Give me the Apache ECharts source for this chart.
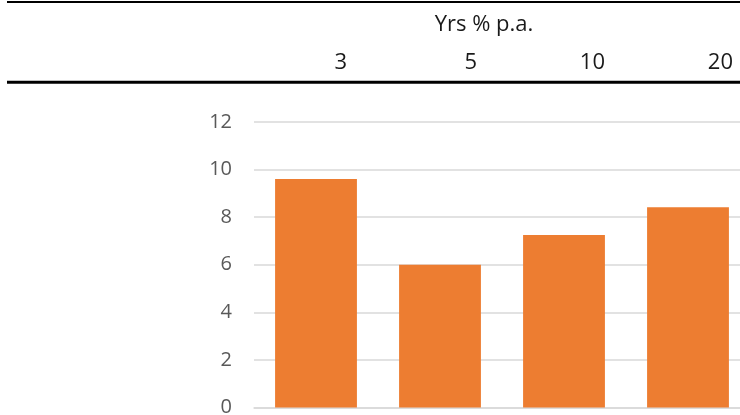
<!DOCTYPE html>
<html>
<head>
<meta charset="utf-8">
<style>html,body{margin:0;padding:0;background:#fff}#c{width:740px;height:415px}</style>
<script src="https://cdn.jsdelivr.net/npm/echarts@6/dist/echarts.min.js"></script>
</head>
<body>
<div id="c"></div>
<script>
const categories = ['3', '5', '10', '20'];
const values = [9.6, 6.0, 7.25, 8.42];
const yTicks = { min: 0, max: 12, interval: 2 };
const headerTitle = 'Yrs % p.a.';

const FONT = '"Open Sans", "Liberation Sans", sans-serif';
const headerRightEdges = [347, 477, 605, 733];

const chart = echarts.init(document.getElementById('c'), null, { renderer: 'canvas' });

const graphics = [
  { type: 'line', shape: { x1: 7, y1: 2, x2: 740, y2: 2 }, style: { stroke: '#000', lineWidth: 2 } },
  { type: 'line', shape: { x1: 7, y1: 82.2, x2: 740, y2: 82.2 }, style: { stroke: '#000', lineWidth: 3 } },
  { type: 'text', x: 484, y: 25, style: { text: headerTitle, fill: '#1a1a1a', font: '22px ' + FONT, align: 'center', verticalAlign: 'middle' } }
];
categories.forEach((c, i) => {
  graphics.push({ type: 'text', x: headerRightEdges[i], y: 63, style: { text: c, fill: '#1a1a1a', font: '22px ' + FONT, align: 'right', verticalAlign: 'middle' } });
});

chart.setOption({
  animation: false,
  backgroundColor: '#fff',
  grid: { left: 254, top: 122, width: 496, bottom: 7.5, containLabel: false, outerBoundsMode: 'none' },
  xAxis: {
    type: 'category',
    data: categories,
    axisLabel: { show: false },
    axisTick: { show: false },
    axisLine: { show: true, lineStyle: { color: '#d9d9d9', width: 1.5 } }
  },
  yAxis: {
    type: 'value',
    min: yTicks.min, max: yTicks.max, interval: yTicks.interval,
    axisLine: { show: false },
    axisTick: { show: false },
    axisLabel: { color: '#595959', fontSize: 20, fontFamily: FONT, margin: 22 },
    splitLine: { lineStyle: { color: '#d9d9d9', width: 1.5 } }
  },
  series: [{
    type: 'bar',
    data: values,
    barCategoryGap: '34%',
    itemStyle: { color: '#ed7d31' }
  }],
  graphic: graphics
});
</script>
</body>
</html>
